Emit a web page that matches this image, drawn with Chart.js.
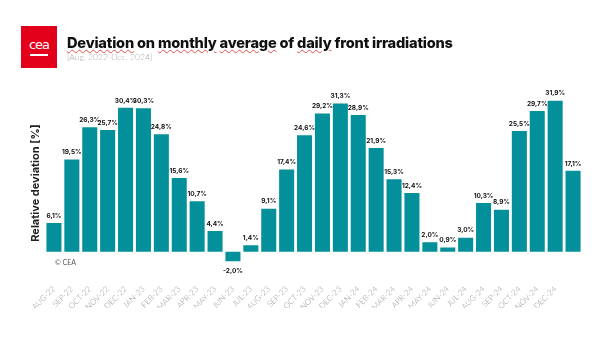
<!DOCTYPE html>
<html>
<head>
<meta charset="utf-8">
<script src="https://cdn.jsdelivr.net/npm/chart.js@4.4.1/dist/chart.umd.min.js"></script>
<style>
  html, body { margin: 0; padding: 0; background: #fff; }
  #wrap { position: relative; width: 612px; height: 344px; overflow: hidden; }
  #chart { position: absolute; left: 0; top: 0; }
  .logo {
    position: absolute; left: 21px; top: 26px; width: 36px; height: 42px;
    background: #e2001a; color: #fff; font-family: "DejaVu Sans", sans-serif;
    font-size: 13px; text-align: center; line-height: 38px; letter-spacing: -1px;
  }
  .logo:after {
    content: ""; position: absolute; left: 9px; right: 9px; top: 28px; height: 1.5px; background: #fff;
  }
  .title {
    position: absolute; left: 67px; top: 34px; font-family: Inter, sans-serif; font-weight: 800;
    font-size: 14.6px; color: #111; letter-spacing: -0.2px; white-space: nowrap;
  }
  .title u { text-decoration: underline wavy #e0504a; text-decoration-thickness: 0.8px; text-underline-offset: 1px; }
  .sub {
    position: absolute; left: 67px; top: 52px; font-family: Lato, sans-serif; font-weight: 300;
    font-size: 8.5px; color: #aaa; white-space: nowrap;
  }
  .ytitle {
    position: absolute; left: 35px; top: 183px; transform: translate(-50%, -50%) rotate(-90deg);
    font-family: Inter, sans-serif; font-weight: 700; font-size: 11px; color: #222; white-space: nowrap;
  }
  .credit {
    position: absolute; left: 55px; top: 258px; font-family: Lato, sans-serif;
    font-size: 7px; color: #555;
  }
</style>
</head>
<body>
<div id="wrap">
  <canvas id="chart" width="612" height="344"></canvas>
  <div class="logo">cea</div>
  <div class="title"><u>Deviation</u> on <u>monthly</u> <u>average</u> of <u>daily</u> front irradiations</div>
  <div class="sub">[Aug. 2022-Dec. 2024]</div>
  <div class="ytitle">Relative deviation [%]</div>
  <div class="credit">© CEA</div>
</div>
<script>
// --- Data ---
const months = [
  "AUG-22", "SEP-22", "OCT-22", "NOV-22", "DEC-22",
  "JAN-23", "FEB-23", "MAR-23", "APR-23", "MAY-23", "JUN-23", "JUL-23",
  "AUG-23", "SEP-23", "OCT-23", "NOV-23", "DEC-23",
  "JAN-24", "FEB-24", "MAR-24", "APR-24", "MAY-24", "JUN-24", "JUL-24",
  "AUG-24", "SEP-24", "OCT-24", "NOV-24", "DEC-24", ""
];
const deviation = [
  6.1, 19.5, 26.3, 25.7, 30.4,
  30.3, 24.8, 15.6, 10.7, 4.4, -2.0, 1.4,
  9.1, 17.4, 24.6, 29.2, 31.3,
  28.9, 21.9, 15.3, 12.4, 2.0, 0.9, 3.0,
  10.3, 8.9, 25.5, 29.7, 31.9, 17.1
];

const BAR_COLOR = "#03909a";

// --- Value labels above / below bars ---
const valueLabels = {
  id: "valueLabels",
  afterDatasetsDraw(chart) {
    const ctx = chart.ctx;
    const meta = chart.getDatasetMeta(0);
    ctx.save();
    ctx.font = "bold 6.5px Inter, sans-serif";
    ctx.fillStyle = "#111";
    ctx.textAlign = "center";
    meta.data.forEach((bar, i) => {
      const v = deviation[i];
      const txt = v.toFixed(1).replace(".", ",") + "%";
      if (v >= 0) {
        ctx.textBaseline = "bottom";
        ctx.fillText(txt, bar.x, bar.y - 4);
      } else {
        ctx.textBaseline = "top";
        ctx.fillText(txt, bar.x, bar.y + 6);
      }
    });
    ctx.restore();
  }
};

new Chart(document.getElementById("chart"), {
  type: "bar",
  data: {
    labels: months,
    datasets: [{
      data: deviation,
      backgroundColor: BAR_COLOR,
      borderWidth: 0,
      categoryPercentage: 1,
      barPercentage: 0.84
    }]
  },
  options: {
    responsive: false,
    animation: false,
    layout: { autoPadding: false, padding: { left: 45, right: 30, top: 86, bottom: 36 } },
    plugins: { legend: { display: false }, tooltip: { enabled: false } },
    scales: {
      x: {
        grid: { display: false },
        border: { display: false },
        afterFit(scale) { scale.paddingLeft = 0; scale.paddingRight = 0; },
        ticks: {
          minRotation: 45, maxRotation: 45, autoSkip: false, padding: -4,
          color: "#9a9a9a",
          font: { family: "Lato, sans-serif", size: 8, weight: 300 }
        }
      },
      y: {
        display: false,
        min: -6, max: 35
      }
    }
  },
  plugins: [valueLabels]
});
</script>
</body>
</html>
